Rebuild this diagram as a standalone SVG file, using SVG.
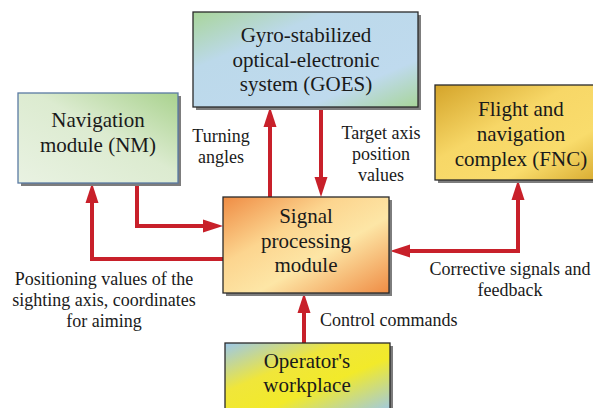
<svg xmlns="http://www.w3.org/2000/svg" width="593" height="408" viewBox="0 0 593 408">
<defs>
<style>
.box{stroke:#2a2a2a;stroke-width:1.3}
.shadow{fill:#7d7d7d}
.bt{font-family:"Liberation Serif","Times New Roman",serif;font-size:21px;fill:#1a1a1a;text-anchor:middle}
.lt{font-family:"Liberation Serif","Times New Roman",serif;font-size:18px;fill:#1a1a1a;text-anchor:middle}
.con{fill:none;stroke:#c8202a;stroke-width:4;stroke-linejoin:miter;stroke-linecap:butt;marker-end:url(#ah)}
</style>
<marker id="ah" markerUnits="userSpaceOnUse" markerWidth="20" markerHeight="13" refX="10" refY="6.5" orient="auto-start-reverse" overflow="visible">
<path d="M0,0 L20,6.5 L0,13 z" fill="#c8202a"/>
</marker>
<linearGradient id="gNM" x1="1" y1="0" x2="0" y2="1">
<stop offset="0" stop-color="#a9d28e"/>
<stop offset="0.45" stop-color="#dcebd0"/>
<stop offset="1" stop-color="#e9f2e2"/>
</linearGradient>
<linearGradient id="gGO" x1="0" y1="0" x2="1" y2="1">
<stop offset="0" stop-color="#a9d59a"/>
<stop offset="0.3" stop-color="#bcd9ea"/>
<stop offset="0.75" stop-color="#bfdaee"/>
<stop offset="1" stop-color="#a8d59a"/>
</linearGradient>
<linearGradient id="gSP" x1="0" y1="0" x2="1" y2="1">
<stop offset="0" stop-color="#ef8c44"/>
<stop offset="0.35" stop-color="#fcd58f"/>
<stop offset="0.6" stop-color="#fde6a6"/>
<stop offset="1" stop-color="#ef8c44"/>
</linearGradient>
<linearGradient id="gFN" x1="0" y1="0" x2="1" y2="1">
<stop offset="0" stop-color="#d4a42a"/>
<stop offset="0.4" stop-color="#f7d767"/>
<stop offset="0.7" stop-color="#f9dc6c"/>
<stop offset="1" stop-color="#d6a82c"/>
</linearGradient>
<linearGradient id="gOP" x1="0" y1="0" x2="1" y2="1">
<stop offset="0" stop-color="#9cc8ea"/>
<stop offset="0.35" stop-color="#f0e63a"/>
<stop offset="0.6" stop-color="#f2ea2a"/>
<stop offset="1" stop-color="#9cc8ea"/>
</linearGradient>
</defs>
<rect width="593" height="408" fill="#ffffff"/>

<g id="connectors">
<path class="con" d="M270,197 V117"/>
<path class="con" d="M321,107 V187"/>
<path class="con" d="M137,183 V226 H213"/>
<path class="con" d="M223,259 H92 V193"/>
<path class="con" d="M518,190 V251 H400" style="marker-start:url(#ah)"/>
<path class="con" d="M304,343 V303"/>
</g>

<g id="nm">
<rect class="shadow" x="21" y="96" width="160" height="90"/>
<rect class="box" x="18" y="93" width="160" height="90" fill="url(#gNM)" style="stroke:#5a7aa3"/>
<text class="bt" x="98" y="127">Navigation</text>
<text class="bt" x="98" y="152">module (NM)</text>
</g>

<g id="goes">
<rect class="shadow" x="196" y="15" width="225" height="95"/>
<rect class="box" x="193" y="12" width="225" height="95" fill="url(#gGO)"/>
<text class="bt" x="306" y="42">Gyro-stabilized</text>
<text class="bt" x="306" y="67">optical-electronic</text>
<text class="bt" x="306" y="91">system (GOES)</text>
</g>

<g id="spm">
<rect class="shadow" x="226" y="200" width="166" height="96"/>
<rect class="box" x="223" y="197" width="166" height="96" fill="url(#gSP)"/>
<text class="bt" x="306" y="223">Signal</text>
<text class="bt" x="306" y="248">processing</text>
<text class="bt" x="306" y="272">module</text>
</g>

<g id="fnc">
<rect class="shadow" x="438" y="88" width="170" height="95"/>
<rect class="box" x="435" y="85" width="170" height="95" fill="url(#gFN)"/>
<text class="bt" x="521" y="116">Flight and</text>
<text class="bt" x="521" y="141">navigation</text>
<text class="bt" x="521" y="166">complex (FNC)</text>
</g>

<g id="op">
<rect class="shadow" x="228" y="346" width="165" height="70"/>
<rect class="box" x="225" y="343" width="165" height="70" fill="url(#gOP)"/>
<text class="bt" x="307" y="368">Operator's</text>
<text class="bt" x="307" y="392">workplace</text>
</g>

<g id="labels">
<text class="lt" x="221" y="142">Turning</text>
<text class="lt" x="221" y="163">angles</text>
<text class="lt" x="381" y="139">Target axis</text>
<text class="lt" x="381" y="160">position</text>
<text class="lt" x="381" y="181">values</text>
<text class="lt" x="104" y="285">Positioning values of the</text>
<text class="lt" x="104" y="306">sighting axis, coordinates</text>
<text class="lt" x="104" y="327">for aiming</text>
<text class="lt" x="510" y="275">Corrective signals and</text>
<text class="lt" x="510" y="296">feedback</text>
<text class="lt" x="320" y="326" style="text-anchor:start">Control commands</text>
</g>
</svg>
